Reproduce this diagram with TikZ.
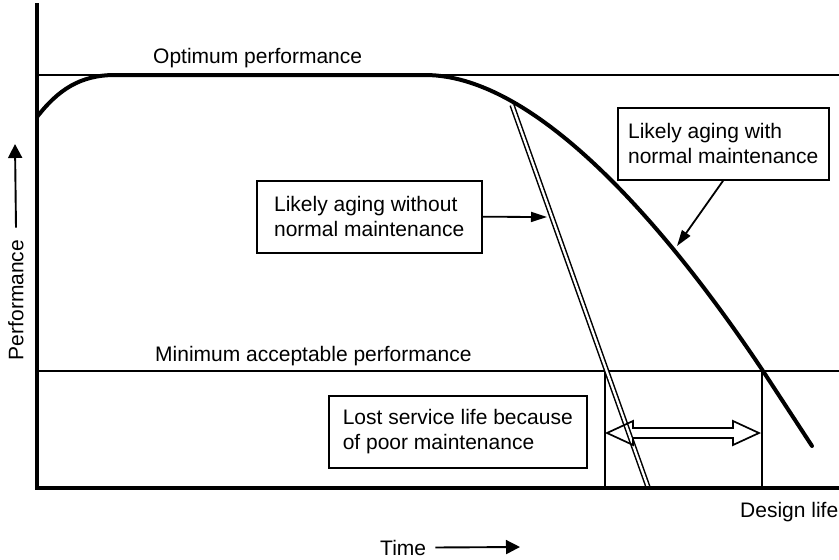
\documentclass[tikz,border=0pt]{standalone}
\usepackage{fontspec}
\setmainfont{Liberation Sans}
\usetikzlibrary{arrows.meta}
\begin{document}
\begin{tikzpicture}[x=1pt,y=-1pt,
  txt/.style={inner sep=0pt, font=\fontsize{21}{25}\selectfont},
  lbl/.style={txt, anchor=base west},
  note/.style={txt, draw, line width=1.5pt, align=left, anchor=north west, minimum height=72pt},
  axis/.style={line width=4.5pt, line join=miter},
  level/.style={line width=2.1pt},
  guide/.style={line width=1.5pt},
  pointer/.style={line width=1.8pt, -{Triangle[length=16pt,width=10pt]}},
  axisarrow/.style={line width=1.9pt, -{Triangle[length=14pt,width=14pt]}},
]
\useasboundingbox (0,0) rectangle (839,560);

% reference levels
\draw[level] (37,75) -- (839,75);
\draw[level] (37,371) -- (839,371);
\node[lbl] (opt) at (153,63) {Optimum performance};
\node[lbl] (min) at (155,361) {Minimum acceptable performance};

% lost service life interval
\coordinate (g1a) at (605,371); \coordinate (g1b) at (605,488);
\coordinate (g2a) at (762,371); \coordinate (g2b) at (762,488);
\draw[guide] (g1a) -- (g1b);
\draw[guide] (g2a) -- (g2b);

% ageing without normal maintenance
\coordinate (d0) at (512,105);
\coordinate (d1) at (648,487);
\draw[line width=1.5pt, double, double distance=2.3pt] (d0) -- (d1);

% ageing with normal maintenance
\draw[line width=4pt, line cap=round] (37,117) .. controls (58,90) and (80,75) .. (115,75)
  -- (425,75) .. controls (545,75) and (683,251) .. (763,371) -- (812,446);

% hollow double arrow
\draw[line width=1.7pt, line join=miter] (607,433) -- (633,421) -- (633,428)
  -- (733,428) -- (733,421) -- (759,433) -- (733,445) -- (733,438)
  -- (633,438) -- (633,445) -- cycle;

% axes
\coordinate (ytop) at (37,3);
\coordinate (orig) at (37,488);
\coordinate (xend) at (839,488);
\draw[axis] (ytop) -- (orig) -- (xend);

% callouts
\node[note, minimum width=225pt] (b1) at (256,180) {Likely aging without\\normal maintenance};
\node[note, minimum width=211pt] (b2) at (617,107) {Likely aging with\\normal maintenance};
\node[note, minimum width=258pt] (b3) at (328,395) {Lost service life because\\of poor maintenance};
\coordinate (t1) at (547,217);
\coordinate (t2) at (677,246);
\draw[pointer] (b1.east) -- (t1);
\draw[pointer] (b2.south) -- (t2);

% axis labels
\node[lbl] (dl) at (740,517) {Design life};
\node[txt, rotate=90] (perf) at (16,300) {Performance};
\coordinate (pa) at (15,144);
\draw[axisarrow] ([yshift=12pt]perf.east) -- (pa);
\node[lbl] (time) at (380,555) {Time};
\coordinate (ta) at (520,547);
\draw[axisarrow] ([xshift=9pt]time.east) -- (ta);
\end{tikzpicture}
\end{document}
